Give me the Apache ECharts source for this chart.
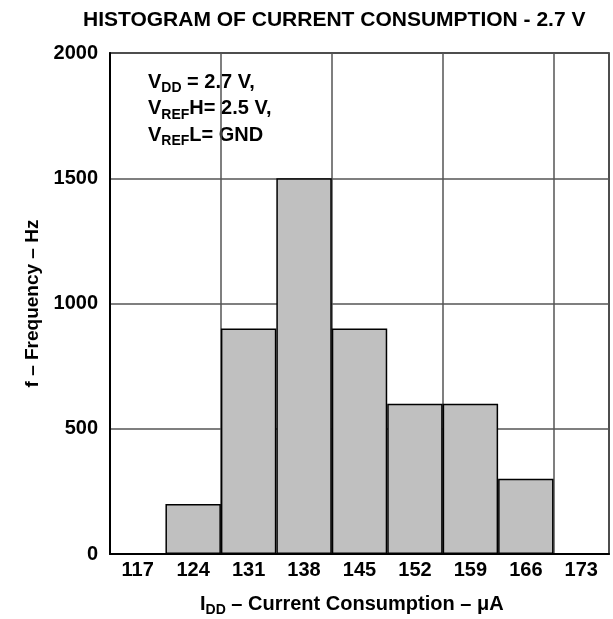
<!DOCTYPE html>
<html>
<head>
<meta charset="utf-8">
<script src="https://cdn.jsdelivr.net/npm/echarts@6/dist/echarts.min.js"></script>
<style>
  html, body { margin: 0; padding: 0; background: #fff; }
  #chart { width: 613px; height: 619px; }
</style>
</head>
<body>
<div id="chart"></div>
<script>
// current bins (uA) and how often each occurred
var categories = ['117', '124', '131', '138', '145', '152', '159', '166', '173'];
var frequency = [0, 200, 900, 1500, 900, 600, 600, 300, 0];
var yTicks = [0, 500, 1000, 1500, 2000];

var FONT = '"Liberation Sans", Arial, sans-serif';
var sub = { fontSize: 14, fontWeight: 'bold', fontFamily: FONT, lineHeight: 14, verticalAlign: 'bottom' };

var chart = echarts.init(document.getElementById('chart'));

var option = {
  animation: false,
  backgroundColor: '#fff',
  grid: {
    left: 110, right: 4, top: 53, bottom: 65,
    show: true, borderColor: '#000', borderWidth: 1.5
  },
  xAxis: {
    type: 'category',
    data: categories,
    boundaryGap: true,
    axisLine: { lineStyle: { color: '#000', width: 2 } },
    axisTick: { show: false },
    axisLabel: { color: '#000', fontFamily: FONT, fontWeight: 'bold', fontSize: 20, margin: 6, interval: 0 },
    splitLine: {
      show: true,
      interval: function (i) { return i % 2 === 0; },
      lineStyle: { color: '#555', width: 1.5 }
    }
  },
  yAxis: {
    type: 'value',
    min: yTicks[0], max: yTicks[yTicks.length - 1], interval: 500,
    name: 'f – Frequency – Hz',
    nameLocation: 'middle',
    nameGap: 68,
    nameTextStyle: { color: '#000', fontFamily: FONT, fontWeight: 'bold', fontSize: 19 },
    axisLine: { show: true, lineStyle: { color: '#000', width: 2 } },
    axisTick: { show: false },
    axisLabel: {
      color: '#000', fontFamily: FONT, fontWeight: 'bold', fontSize: 20, margin: 12,
      formatter: function (v) { return String(v); }
    },
    splitLine: { lineStyle: { color: '#555', width: 1.5 } }
  },
  series: [{
    type: 'bar',
    data: frequency,
    barCategoryGap: 0,
    itemStyle: { color: '#c0c0c0', borderColor: '#000', borderWidth: 1.5 }
  }],
  graphic: [
    {
      type: 'text', left: 83, top: 10,
      style: { text: 'HISTOGRAM OF CURRENT CONSUMPTION - 2.7 V', fill: '#000',
        font: 'bold 21px ' + FONT }
    },
    {
      type: 'text', left: 148, top: 69,
      style: {
        text: 'V{s|DD} = 2.7 V,\nV{s|REF}H= 2.5 V,\nV{s|REF}L= GND',
        fill: '#000', font: 'bold 20px ' + FONT, lineHeight: 26.5,
        rich: { s: sub }
      }
    },
    {
      type: 'text', left: 200, top: 591,
      style: {
        text: 'I{s|DD} – Current Consumption – μA',
        fill: '#000', font: 'bold 20px ' + FONT, lineHeight: 26,
        rich: { s: sub }
      }
    }
  ]
};

chart.setOption(option);
</script>
</body>
</html>
